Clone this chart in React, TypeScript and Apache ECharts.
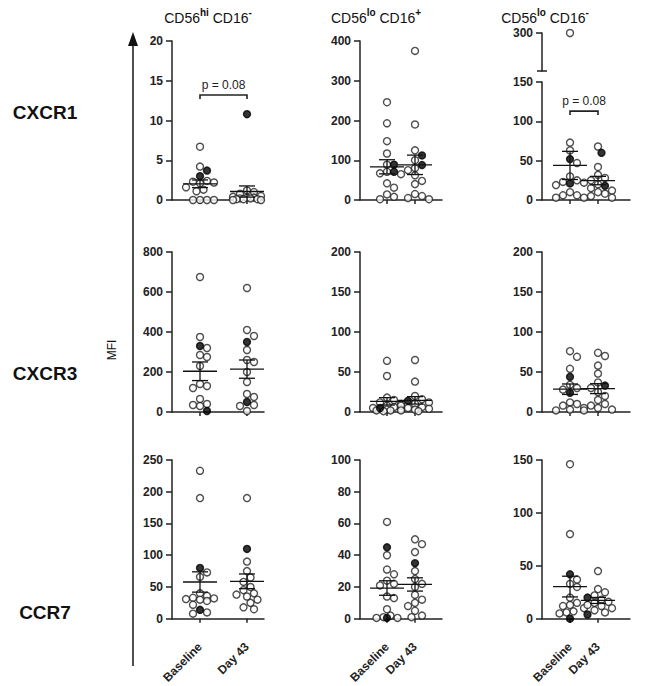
import React, { useEffect, useRef } from "react";
import * as echarts from "echarts";

// ---------- data ----------
const groups = ["Baseline", "Day 43"];
const markers = ["CXCR1", "CXCR3", "CCR7"];
const subsetSup = [["hi", "-"], ["lo", "+"], ["lo", "-"]];
const pText = "p = 0.08";

// CXCR1
const cxcr1HiBaseline = [6.7, 4.2, 2.4, 2.3, 2.2, 2.1, 1.6, 1.3, 1.1, 0, 0, 0, 0];
const cxcr1HiBaselineSolid = [3.7, 3.0];
const cxcr1HiDay43 = [1.2, 1.0, 0.8, 0.5, 0.4, 0.3, 0.3, 0.2, 0.2, 0.1, 0.1, 0.1, 0, 0];
const cxcr1HiDay43Solid = [10.8];

const cxcr1Lo16pBaseline = [246, 193, 148, 117, 89, 71, 67, 65, 42, 31, 14, 8, 2];
const cxcr1Lo16pBaselineSolid = [89, 71];
const cxcr1Lo16pDay43 = [375, 190, 125, 100, 80, 75, 62, 48, 40, 15, 10, 5, 2];
const cxcr1Lo16pDay43Solid = [112, 88];

const cxcr1Lo16nBaseline = [300, 73, 63, 47, 30, 25, 23, 22, 19, 10, 6, 6, 3, 3];
const cxcr1Lo16nBaselineSolid = [52, 21];
const cxcr1Lo16nDay43 = [68, 42, 32, 28, 25, 20, 15, 12, 10, 8, 5, 3];
const cxcr1Lo16nDay43Solid = [60, 18];

// CXCR3
const cxcr3HiBaseline = [675, 375, 320, 285, 275, 230, 140, 130, 120, 65, 40, 35, 30];
const cxcr3HiBaselineSolid = [330, 5];
const cxcr3HiDay43 = [620, 410, 380, 310, 260, 250, 200, 150, 90, 75, 35, 30, 5];
const cxcr3HiDay43Solid = [350, 50];

const cxcr3Lo16pBaseline = [64, 45, 18, 15, 12, 10, 8, 6, 5, 4, 3, 2, 2, 1];
const cxcr3Lo16pBaselineSolid = [5];
const cxcr3Lo16pDay43 = [65, 38, 20, 16, 12, 10, 8, 6, 5, 4, 3, 2, 1];
const cxcr3Lo16pDay43Solid = [14];

const cxcr3Lo16nBaseline = [76, 69, 54, 34, 30, 28, 12, 10, 8, 5, 3, 2];
const cxcr3Lo16nBaselineSolid = [44, 24];
const cxcr3Lo16nDay43 = [74, 70, 58, 48, 37, 30, 25, 20, 15, 10, 8, 5, 3, 2];
const cxcr3Lo16nDay43Solid = [33];

// CCR7
const ccr7HiBaseline = [233, 190, 73, 66, 40, 36, 33, 32, 31, 30, 28, 22, 10, 8];
const ccr7HiBaselineSolid = [80, 14];
const ccr7HiDay43 = [190, 90, 75, 65, 58, 50, 45, 40, 38, 35, 30, 25, 18, 15];
const ccr7HiDay43Solid = [110];

const ccr7Lo16pBaseline = [61, 40, 31, 28, 24, 22, 21, 14, 13, 6, 2, 1, 0.5, 0.5];
const ccr7Lo16pBaselineSolid = [45, 0.5];
const ccr7Lo16pDay43 = [50, 47, 42, 30, 25, 22, 20, 15, 12, 10, 8, 5, 2, 1];
const ccr7Lo16pDay43Solid = [35];

const ccr7Lo16nBaseline = [146, 80, 37, 33, 30, 20, 15, 13, 12, 10, 7, 6, 5];
const ccr7Lo16nBaselineSolid = [42, 0];
const ccr7Lo16nDay43 = [45, 28, 25, 22, 18, 16, 15, 13, 12, 10, 8, 6];
const ccr7Lo16nDay43Solid = [20, 4];

// axis ranges (row-major: rows = markers, cols = subsets)
const axisMax = [[20, 400, 150], [800, 200, 200], [250, 100, 150]];
const axisStep = [[5, 100, 50], [200, 50, 50], [50, 20, 50]];
const bracketLevel = [[13.2, null, 113], [null, null, null], [null, null, null]];
const brokenUpperTick = 300; // upper segment label for CXCR1 / CD56lo CD16-
const brokenUpperMin = 255;

const panelData = [
  [
    [cxcr1HiBaseline, cxcr1HiBaselineSolid, cxcr1HiDay43, cxcr1HiDay43Solid],
    [cxcr1Lo16pBaseline, cxcr1Lo16pBaselineSolid, cxcr1Lo16pDay43, cxcr1Lo16pDay43Solid],
    [cxcr1Lo16nBaseline, cxcr1Lo16nBaselineSolid, cxcr1Lo16nDay43, cxcr1Lo16nDay43Solid],
  ],
  [
    [cxcr3HiBaseline, cxcr3HiBaselineSolid, cxcr3HiDay43, cxcr3HiDay43Solid],
    [cxcr3Lo16pBaseline, cxcr3Lo16pBaselineSolid, cxcr3Lo16pDay43, cxcr3Lo16pDay43Solid],
    [cxcr3Lo16nBaseline, cxcr3Lo16nBaselineSolid, cxcr3Lo16nDay43, cxcr3Lo16nDay43Solid],
  ],
  [
    [ccr7HiBaseline, ccr7HiBaselineSolid, ccr7HiDay43, ccr7HiDay43Solid],
    [ccr7Lo16pBaseline, ccr7Lo16pBaselineSolid, ccr7Lo16pDay43, ccr7Lo16pDay43Solid],
    [ccr7Lo16nBaseline, ccr7Lo16nBaselineSolid, ccr7Lo16nDay43, ccr7Lo16nDay43Solid],
  ],
];

// ---------- layout ----------
const FONT = "'Liberation Sans', Arial, Helvetica, sans-serif";
const INK = "#222";
const colLayout = [
  { left: 172, width: 92, c1: 200, c2: 247, head: 208 },
  { left: 360, width: 82, c1: 387, c2: 415, head: 376 },
  { left: 542, width: 88, c1: 570, c2: 598, head: 545 },
];
const rowLayout = [
  { top: 41, height: 159, label: 112 },
  { top: 252, height: 160, label: 373 },
  { top: 460, height: 160, label: 612 },
];
const brokenLowerTop = 82;
const brokenUpper = { top: 33, height: 38 };
const DOT = 7;
const DOT_SPACE = 7;
const MAX_STEPS = 4; // half-dot steps each side

function swarm(vals: number[], pxPerUnit: number, d: number): number[] {
  const order = vals.map((_, i) => i).sort((a, b) => vals[b] - vals[a]);
  const placed: [number, number][] = [];
  const out = new Array(vals.length).fill(0);
  const cands: number[] = [0];
  for (let k = 1; k <= MAX_STEPS; k++) cands.push(k * d * 0.5, -k * d * 0.5);
  for (const i of order) {
    const y = vals[i] * pxPerUnit;
    let best = 0;
    let bestDist = -1;
    for (const dx of cands) {
      const minD = placed.reduce((m, [px, py]) => Math.min(m, Math.hypot(px - dx, py - y)), Infinity);
      if (minD >= d) { best = dx; bestDist = Infinity; break; }
      if (minD > bestDist + 0.5) { best = dx; bestDist = minD; }
    }
    out[i] = best;
    placed.push([best, y]);
  }
  return out;
}

function meanSem(v: number[]): [number, number] {
  const n = v.length;
  const m = v.reduce((a, b) => a + b, 0) / n;
  const sd = Math.sqrt(v.reduce((a, b) => a + (b - m) * (b - m), 0) / (n - 1));
  return [m, sd / Math.sqrt(n)];
}

function buildOption() {
  const grid: any[] = [];
  const xAxis: any[] = [];
  const yAxis: any[] = [];
  const series: any[] = [];
  const labelStyle = { fontSize: 12, fontWeight: "bold", fontFamily: FONT, color: INK };

  for (let r = 0; r < 3; r++) {
    for (let c = 0; c < 3; c++) {
      const col = colLayout[c];
      const row = rowLayout[r];
      const max = axisMax[r][c];
      const broken = r === 0 && c === 2;
      const top = broken ? brokenLowerTop : row.top;
      const height = row.top + row.height - top;
      const a = (col.c1 - col.left) / col.width;
      const b = (col.c2 - col.left) / col.width;
      const R = 1 / (b - a);
      const xmin = 1 - a * R;
      const xmax = xmin + R;

      const gi = grid.length;
      grid.push({ left: col.left, top, width: col.width, height });
      xAxis.push({
        type: "value", gridIndex: gi, min: xmin, max: xmax,
        axisLine: { show: true, onZero: false, lineStyle: { color: INK, width: 1.5 } },
        axisTick: { show: true, customValues: [1, 2], length: 4, lineStyle: { color: INK, width: 1.5 } },
        axisLabel: {
          show: r === 2, customValues: [1, 2], rotate: 45, margin: 26,
          formatter: (v: number) => groups[Math.round(v) - 1] ?? "",
          ...labelStyle,
        },
        splitLine: { show: false },
      });
      yAxis.push({
        type: "value", gridIndex: gi, min: 0, max, interval: axisStep[r][c],
        axisLine: { show: true, lineStyle: { color: INK, width: 1.5 } },
        axisTick: { show: true, length: 6, lineStyle: { color: INK, width: 1.5 } },
        axisLabel: { margin: 9, ...labelStyle },
        splitLine: { show: false },
      });

      let upperGi = -1;
      if (broken) {
        upperGi = grid.length;
        grid.push({ left: col.left, top: brokenUpper.top, width: col.width, height: brokenUpper.height });
        xAxis.push({ type: "value", gridIndex: upperGi, min: xmin, max: xmax, show: false });
        yAxis.push({
          type: "value", gridIndex: upperGi, min: brokenUpperMin, max: brokenUpperTick,
          axisLine: { show: true, lineStyle: { color: INK, width: 1.5 } },
          axisTick: { show: true, length: 6, customValues: [brokenUpperTick], lineStyle: { color: INK, width: 1.5 } },
          axisLabel: { margin: 9, customValues: [brokenUpperTick], ...labelStyle },
          splitLine: { show: false },
        });
      }

      const pxPerUnit = height / max;
      const [bOpen, bSolid, dOpen, dSolid] = panelData[r][c];
      const lowerDots: any[] = [];
      const upperDots: any[] = [];
      const means: any[] = [];
      [[bOpen, bSolid], [dOpen, dSolid]].forEach(([open, solid], gIdx) => {
        const all = [...open, ...solid];
        const offs = swarm(all, pxPerUnit, DOT_SPACE);
        all.forEach((v, i) => {
          const isSolid = i >= open.length;
          const item = {
            value: [gIdx + 1, v],
            symbolOffset: [offs[i], 0],
            z: isSolid ? 3 : 2,
            itemStyle: isSolid
              ? { color: "#000", borderColor: "#000", borderWidth: 1.4 }
              : { color: "#fff", borderColor: INK, borderWidth: 1.4 },
          };
          if (broken && v > max) upperDots.push(item);
          else lowerDots.push(item);
        });
        const [m, s] = meanSem(all);
        means.push([gIdx + 1, m, s]);
      });

      series.push({
        type: "scatter", xAxisIndex: gi, yAxisIndex: gi, symbol: "circle", symbolSize: DOT,
        data: lowerDots, clip: false, z: 2, silent: true,
      });
      if (upperGi >= 0) {
        series.push({
          type: "scatter", xAxisIndex: upperGi, yAxisIndex: upperGi, symbol: "circle", symbolSize: DOT,
          data: upperDots, clip: false, z: 2, silent: true,
        });
      }
      series.push({
        type: "custom", xAxisIndex: gi, yAxisIndex: gi, clip: false, z: 3, silent: true,
        encode: { x: 0, y: 1 },
        data: means,
        renderItem: (params: any, api: any) => {
          const x = api.value(0), m = api.value(1), s = api.value(2);
          const c0 = api.coord([x, m]);
          const up = api.coord([x, m + s]);
          const lo = api.coord([x, Math.max(0, m - s)]);
          const st = { stroke: "#111", lineWidth: 1.3 };
          return {
            type: "group",
            children: [
              { type: "line", shape: { x1: c0[0] - 17, y1: c0[1], x2: c0[0] + 17, y2: c0[1] }, style: st },
              { type: "line", shape: { x1: c0[0], y1: up[1], x2: c0[0], y2: lo[1] }, style: st },
              { type: "line", shape: { x1: c0[0] - 8, y1: up[1], x2: c0[0] + 8, y2: up[1] }, style: st },
              { type: "line", shape: { x1: c0[0] - 8, y1: lo[1], x2: c0[0] + 8, y2: lo[1] }, style: st },
            ],
          };
        },
      });
      const bl = bracketLevel[r][c];
      if (bl != null) {
        series.push({
          type: "custom", xAxisIndex: gi, yAxisIndex: gi, clip: false, z: 3, silent: true,
          encode: { x: [0, 1], y: 2 },
          data: [[1, 2, bl]],
          renderItem: (params: any, api: any) => {
            const p1 = api.coord([api.value(0), api.value(2)]);
            const p2 = api.coord([api.value(1), api.value(2)]);
            return {
              type: "group",
              children: [
                {
                  type: "polyline",
                  shape: { points: [[p1[0], p1[1] + 4], [p1[0], p1[1]], [p2[0], p2[1]], [p2[0], p2[1] + 4]] },
                  style: { stroke: INK, lineWidth: 1.6, fill: null },
                },
                {
                  type: "text", x: (p1[0] + p2[0]) / 2, y: p1[1] - 4,
                  style: { text: pText, fill: INK, fontSize: 12, fontFamily: FONT, align: "center", verticalAlign: "bottom" },
                },
              ],
            };
          },
        });
      }
    }
  }

  const graphic: any[] = [];
  colLayout.forEach((col, c) => {
    graphic.push({
      type: "text", x: col.head, y: 16,
      style: {
        text: `{a|CD56}{s|${subsetSup[c][0]}}{a| CD16}{s|${subsetSup[c][1]}}`,
        align: "center", verticalAlign: "middle",
        rich: {
          a: { fontSize: 14, fontFamily: FONT, fill: "#111", lineHeight: 18, verticalAlign: "bottom" },
          s: { fontSize: 10, fontFamily: FONT, fill: "#111", fontWeight: "bold", lineHeight: 11, verticalAlign: "top" },
        },
      },
    });
  });
  rowLayout.forEach((row, r) => {
    graphic.push({
      type: "text", x: 45, y: row.label,
      style: { text: markers[r], fontSize: 19, fontWeight: "bold", fontFamily: FONT, fill: "#111", align: "center", verticalAlign: "middle" },
    });
  });
  graphic.push({
    type: "text", x: 112, y: 350, rotation: Math.PI / 2,
    style: { text: "MFI", fontSize: 12, fontFamily: FONT, fill: "#111", align: "center", verticalAlign: "middle" },
  });
  graphic.push({ type: "line", shape: { x1: 133, y1: 44, x2: 133, y2: 666 }, style: { stroke: INK, lineWidth: 1.6 } });
  graphic.push({ type: "polygon", shape: { points: [[128, 46], [138, 46], [133, 32]] }, style: { fill: "#111" } });
  const bx = colLayout[2].left;
  const by = brokenUpper.top + brokenUpper.height;
  graphic.push({ type: "line", shape: { x1: bx - 5, y1: by, x2: bx + 5, y2: by }, style: { stroke: INK, lineWidth: 1.5 } });

  return { animation: false, backgroundColor: "#fff", grid, xAxis, yAxis, series, graphic };
}

export default function App() {
  const ref = useRef<HTMLDivElement>(null);
  useEffect(() => {
    if (!ref.current) return;
    const chart = echarts.init(ref.current, undefined, { renderer: "svg" });
    chart.setOption(buildOption() as any);
    return () => chart.dispose();
  }, []);
  return <div ref={ref} style={{ position: "absolute", left: 0, top: 0, width: 653, height: 686 }} />;
}
